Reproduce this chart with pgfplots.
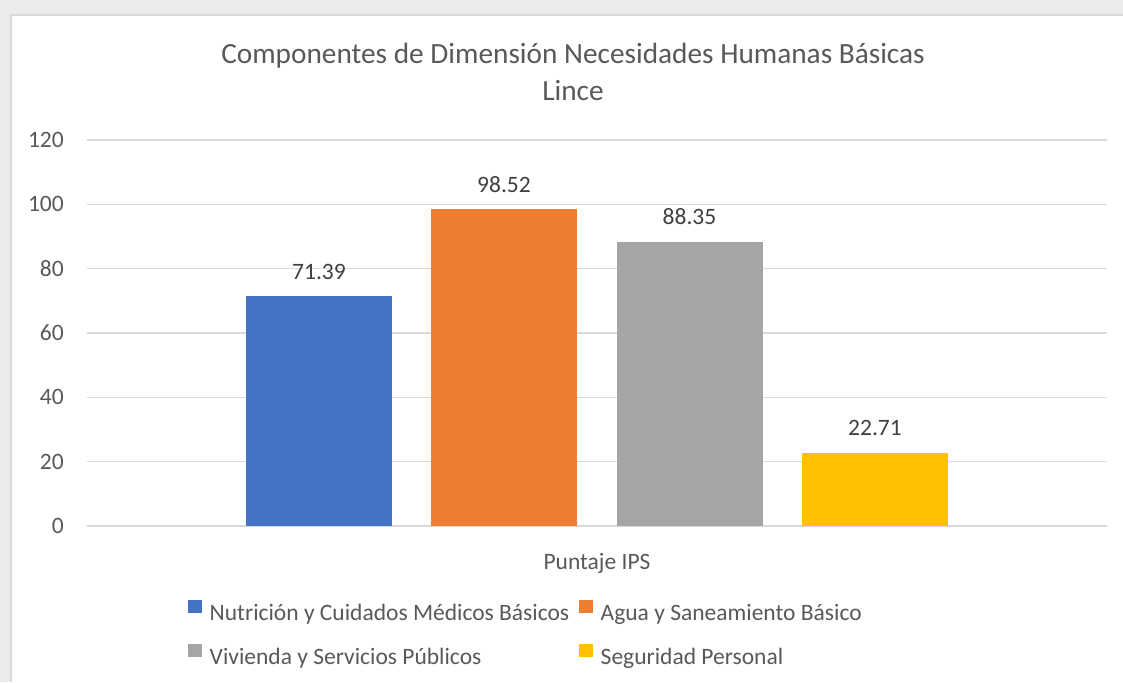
\documentclass[border=0pt]{standalone}
\usepackage{pgfplots}
\pgfplotsset{compat=1.18}
\usepackage{fontspec}
\setmainfont{Carlito}
\definecolor{txt}{HTML}{595959}
\definecolor{lbl}{HTML}{404040}
\definecolor{grd}{HTML}{D9D9D9}
\definecolor{cB}{HTML}{4472C4}
\definecolor{cO}{HTML}{ED7D31}
\definecolor{cG}{HTML}{A5A5A5}
\definecolor{cY}{HTML}{FFC000}
\newcommand{\fs}{\fontsize{23.5}{28}\selectfont}
\begin{document}
\begin{tikzpicture}[x=1pt,y=1pt]
\fill[black!8] (0,0) rectangle (1123,682);
\fill[white] (11,0) rectangle (1123,667);
\draw[grd, line width=1.2pt] (11,0) -- (11,667) -- (1123,667);
\node[text=txt, font=\fontsize{29.3}{36}\selectfont, anchor=base] at (573,618) {Componentes de Dimensión Necesidades Humanas Básicas};
\node[text=txt, font=\fontsize{29.3}{36}\selectfont, anchor=base] at (573,581) {Lince};
\begin{axis}[
  at={(87pt,156pt)}, anchor=south west,
  scale only axis, width=1020pt, height=386pt,
  xmin=0, xmax=1020, ymin=0, ymax=120,
  ytick={0,20,...,120},
  ymajorgrids, grid style={grd, line width=1.3pt},
  axis line style={draw=none}, tick style={draw=none},
  xtick={510}, xticklabels={Puntaje IPS},
  /pgf/number format/assume math mode=true,
  ticklabel style={font=\fs, text=txt},
  yticklabel style={inner sep=0pt, anchor=east, xshift=-23pt},
  xticklabel style={inner sep=0pt, anchor=north, yshift=-23pt},
  ybar, bar width=146,
  nodes near coords={\pgfmathprintnumber[fixed, fixed zerofill, precision=2]{\pgfplotspointmeta}},
  every node near coord/.append style={font=\fs, text=lbl, anchor=base, yshift=17pt, inner sep=0pt},
  legend columns=2,
  legend style={draw=none, fill=none, inner sep=0pt, at={(0.099,-0.19)}, anchor=north west,
    font=\fs, text=txt, row sep=20pt,
    /tikz/every odd column/.append style={column sep=6pt},
    /tikz/every even column/.append style={column sep=8pt}},
  legend cell align=left,
  legend image code/.code={\fill[#1] (0pt,0pt) rectangle (13.5pt,13.5pt);},
]
\addplot[fill=cB, draw=none, bar shift=0pt] coordinates {(232,71.39)};
\addlegendentry{Nutrición y Cuidados Médicos Básicos}
\addplot[fill=cO, draw=none, bar shift=0pt] coordinates {(417,98.52)};
\addlegendentry{Agua y Saneamiento Básico}
\addplot[fill=cG, draw=none, bar shift=0pt] coordinates {(602.5,88.35)};
\addlegendentry{Vivienda y Servicios Públicos}
\addplot[fill=cY, draw=none, bar shift=0pt] coordinates {(788,22.71)};
\addlegendentry{Seguridad Personal}
\end{axis}
\pgfresetboundingbox
\path[use as bounding box] (0,0) rectangle (1123,682);
\end{tikzpicture}
\end{document}
